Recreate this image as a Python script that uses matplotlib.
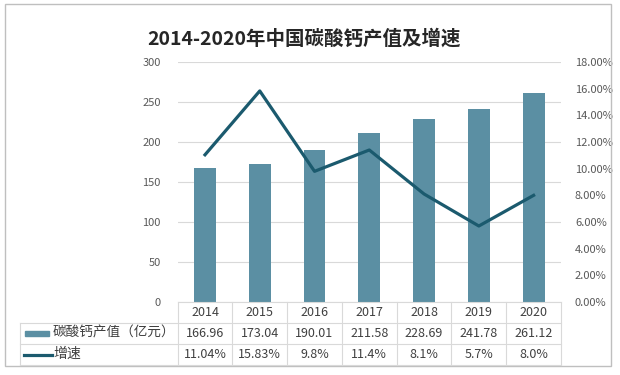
import matplotlib
matplotlib.use("Agg")
import matplotlib.pyplot as plt
from matplotlib.patches import Rectangle
from matplotlib.lines import Line2D
import numpy as np

plt.rcParams['font.family'] = ['Noto Sans CJK SC', 'DejaVu Sans']

years = ["2014", "2015", "2016", "2017", "2018", "2019", "2020"]
value = [166.96, 173.04, 190.01, 211.58, 228.69, 241.78, 261.12]
growth = [11.04, 15.83, 9.8, 11.4, 8.1, 5.7, 8.0]
growth_txt = ["11.04%", "15.83%", "9.8%", "11.4%", "8.1%", "5.7%", "8.0%"]
bar_name = "碳酸钙产值（亿元）"
line_name = "增速"
title = "2014-2020年中国碳酸钙产值及增速"

bar_c = "#5b8fa3"
line_c = "#1b5a6e"
grid_c = "#d9d9d9"
tick_c = "#595959"
text_c = "#404040"

W, H = 620, 375
fig = plt.figure(figsize=(W / 100, H / 100), dpi=100)

def fx(px):
    return px / W

def fy(py):
    return 1 - py / H

L, R, T, B = 177.6, 561.0, 62.0, 302.0
ax = fig.add_axes([fx(L), fy(B), fx(R) - fx(L), fy(T) - fy(B)])
x = np.arange(len(years))
ax.bar(x, value, width=0.4, color=bar_c, zorder=2)
ax.set_xlim(-0.5, len(years) - 0.5)
ax.set_ylim(0, 300)
ax.set_yticks(range(0, 301, 50))
ax.yaxis.grid(True, color=grid_c, lw=0.8, zorder=0)
ax.set_xticks([])
for s in ax.spines.values():
    s.set_visible(False)
ax.tick_params(axis='y', length=0, pad=12, labelsize=8, labelcolor=tick_c)

ax2 = ax.twinx()
ax2.plot(x, growth, color=line_c, lw=2.3, zorder=3)
ax2.set_ylim(0, 18)
ax2.set_yticks(np.arange(0, 18.1, 2))
ax2.set_yticklabels(["%.2f%%" % v for v in np.arange(0, 18.1, 2)])
for s in ax2.spines.values():
    s.set_visible(False)
ax2.tick_params(axis='y', length=0, pad=10, labelsize=8, labelcolor=tick_c)

# outer frame
fig.patches.append(Rectangle((fx(5), fy(366)), fx(611) - fx(5), fy(4) - fy(366),
                             transform=fig.transFigure, fill=False,
                             edgecolor="#bfbfbf", lw=1))

fig.text(fx(304), fy(39), title, ha='center', va='center', fontsize=14,
         fontweight='bold', color="#262626")

# data table under the axis
tc = "#d9d9d9"
rows = [302, 323, 344, 365]
col_w = (R - L) / len(years)

def hline(y, x0, x1):
    fig.add_artist(Line2D([fx(x0), fx(x1)], [fy(y), fy(y)], color=tc, lw=0.8))

def vline(xp, y0, y1):
    fig.add_artist(Line2D([fx(xp), fx(xp)], [fy(y0), fy(y1)], color=tc, lw=0.8))

hline(rows[0], L, R)
for y in rows[1:]:
    hline(y, 20, R)
for i in range(len(years) + 1):
    vline(L + i * col_w, rows[0], rows[3])
vline(20, rows[1], rows[3])

for i, yr in enumerate(years):
    cx = L + (i + 0.5) * col_w
    fig.text(fx(cx), fy(312.5), yr, ha='center', va='center', fontsize=9, color=text_c)
    fig.text(fx(cx), fy(333.5), "%.2f" % value[i], ha='center', va='center',
             fontsize=9, color=text_c)
    fig.text(fx(cx), fy(354.5), growth_txt[i], ha='center', va='center',
             fontsize=9, color=text_c)

fig.patches.append(Rectangle((fx(25), fy(336)), fx(49) - fx(25), fy(331) - fy(336),
                             transform=fig.transFigure, color=bar_c))
fig.add_artist(Line2D([fx(24), fx(52)], [fy(355), fy(355)], color=line_c, lw=2.3))
fig.text(fx(53), fy(333), bar_name, ha='left', va='center', fontsize=9.8, color=text_c)
fig.text(fx(53), fy(354), line_name, ha='left', va='center', fontsize=10, color=text_c)

fig.savefig("out.png", dpi=100)
